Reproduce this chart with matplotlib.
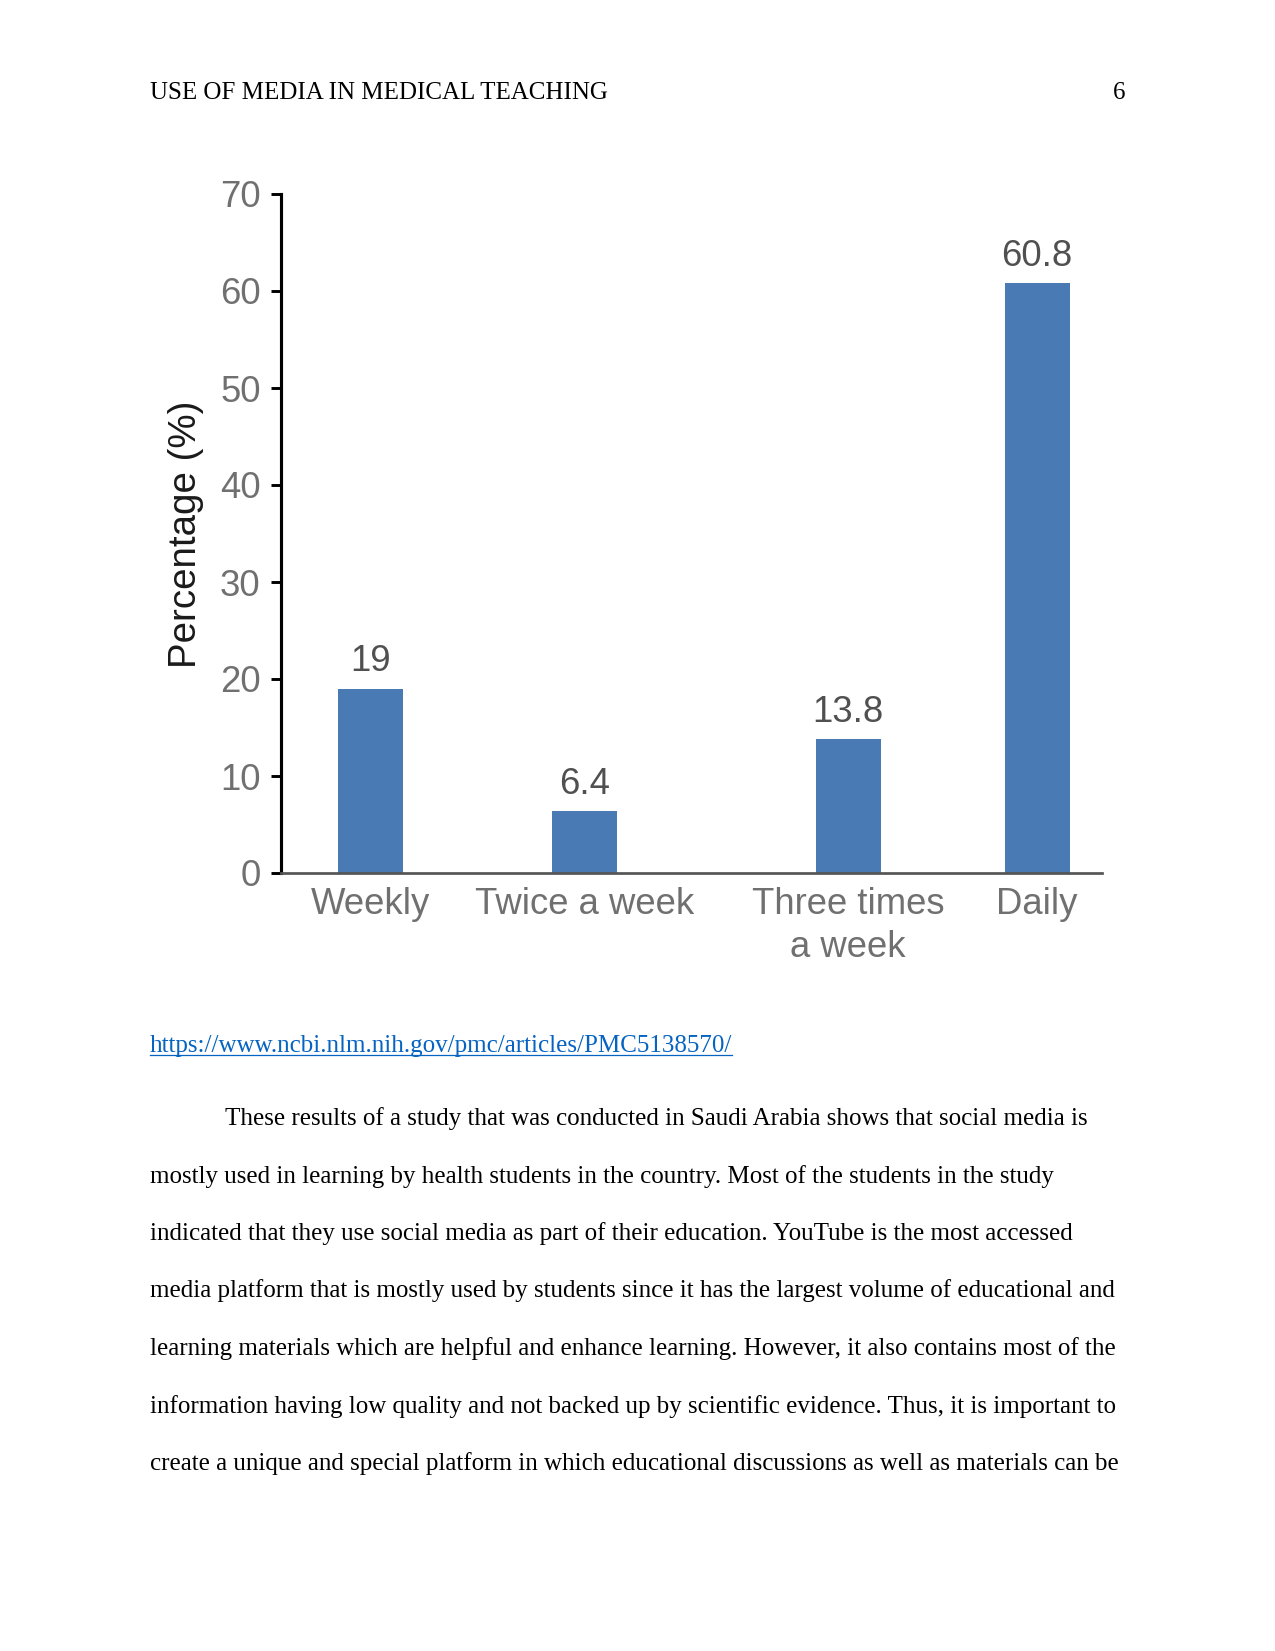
import matplotlib
matplotlib.use('Agg')
import matplotlib.pyplot as plt

# chart data
categories = ['Weekly', 'Twice a week', 'Three times\na week', 'Daily']
percentages = [19, 6.4, 13.8, 60.8]
yticks = [0, 10, 20, 30, 40, 50, 60, 70]

header = 'USE OF MEDIA IN MEDICAL TEACHING'
page_no = '6'
link = 'https://www.ncbi.nlm.nih.gov/pmc/articles/PMC5138570/'
paragraph = [
    'These results of a study that was conducted in Saudi Arabia shows that social media is',
    'mostly used in learning by health students in the country. Most of the students in the study',
    'indicated that they use social media as part of their education. YouTube is the most accessed',
    'media platform that is mostly used by students since it has the largest volume of educational and',
    'learning materials which are helpful and enhance learning. However, it also contains most of the',
    'information having low quality and not backed up by scientific evidence. Thus, it is important to',
    'create a unique and special platform in which educational discussions as well as materials can be',
]

W, H = 1275, 1651
fig = plt.figure(figsize=(W / 150, H / 150), dpi=150)

def px(x, y):
    # page pixel -> figure fraction
    return x / W, 1 - y / H

serif = 'Liberation Serif'
sans = 'Liberation Sans'

# page header
fig.text(*px(150, 99), header, family=serif, fontsize=12, va='baseline', ha='left')
fig.text(*px(1125, 99), page_no, family=serif, fontsize=12, va='baseline', ha='right')

# chart
left, right, top, bottom = 281, 1102, 194, 873
ax = fig.add_axes([left / W, 1 - bottom / H, (right - left) / W, (bottom - top) / H])
xpos = [0.109, 0.3697, 0.691, 0.921]   # irregular bar spacing as in the figure
bars = ax.bar(xpos, percentages, width=0.079, color='#4a7ab4')
ax.set_xlim(0, 1)
ax.set_ylim(0, 70)
ax.set_yticks(yticks)
ax.set_yticklabels([str(t) for t in yticks], family=sans, fontsize=17.5, color='#707070')
ax.set_xticks(xpos)
ax.set_xticklabels(categories, family=sans, fontsize=17.5, color='#707070', linespacing=1.3)
ax.tick_params(axis='y', length=4.8, width=1.4, pad=5, color='black')
ax.tick_params(axis='x', length=0, pad=6.5)
ax.bar_label(bars, labels=[f'{v:g}' for v in percentages], padding=4.5,
             family=sans, fontsize=17.5, color='#505050')
for s in ['top', 'right']:
    ax.spines[s].set_visible(False)
ax.spines['left'].set_linewidth(1.5)
ax.spines['left'].set_color('black')
ax.spines['bottom'].set_linewidth(1.3)
ax.spines['bottom'].set_color('#555555')

fig.text(*px(186, 534), 'Percentage (%)', family=sans, fontsize=18.5, color='#1a1a1a',
         rotation=90, ha='center', va='center')

# source link, underlined
t = fig.text(*px(150, 1052), link, family=serif, fontsize=12, color='#0563c1',
             va='baseline', ha='left')
fig.canvas.draw()
bb = t.get_window_extent()
uy = 1 - (1052 + 3) / H
fig.add_artist(plt.Line2D([bb.x0 / W, bb.x1 / W], [uy, uy], color='#0563c1', lw=0.6,
                          transform=fig.transFigure))

# body text, double spaced
y0, step = 1125, 57.5
for i, line in enumerate(paragraph):
    x = 225 if i == 0 else 150
    fig.text(*px(x, y0 + i * step), line, family=serif, fontsize=12, va='baseline', ha='left')

fig.savefig('out.png', dpi=150)
